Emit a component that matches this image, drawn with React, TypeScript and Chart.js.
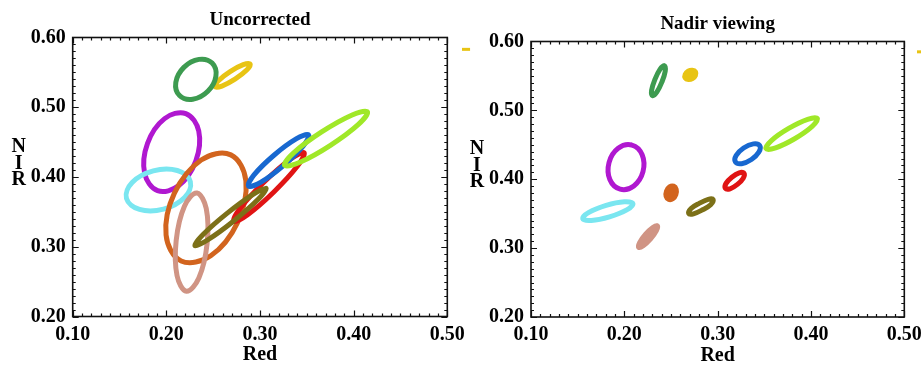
import React, { useEffect, useRef } from 'react';
import { Chart, registerables } from 'chart.js';

Chart.register(...registerables);

type Pt = [number, number];

// Axis ticks
const xTickValues = [0.1, 0.2, 0.3, 0.4, 0.5];
const yTickValues = [0.2, 0.3, 0.4, 0.5, 0.6];
const minorStep = 0.01;

// Panel titles / axis titles
const panelTitles = ['Uncorrected', 'Nadir viewing'];
const xAxisTitle = 'Red';
const yAxisLetters = ['N', 'I', 'R'];

// Class colours
const classNames = ['green', 'yellow', 'magenta', 'cyan', 'orange', 'pink', 'olive', 'red', 'blue', 'lime'];
const classColors = ['#3d9b50', '#e8c414', '#b018d0', '#7ae6f0', '#d2641e', '#d09484', '#7c7018', '#e01414', '#1868d0', '#a0e828'];

// ---- Uncorrected: ellipse outlines (Red, NIR) ----
const uncGreen: Pt[] = [[0.2489, 0.5633], [0.2529, 0.5443], [0.2443, 0.5228], [0.2282, 0.5114], [0.2141, 0.5167], [0.2101, 0.5357], [0.2187, 0.5572], [0.2348, 0.5686]];
const uncYellow: Pt[] = [[0.2894, 0.5619], [0.2858, 0.5533], [0.2733, 0.5403], [0.2593, 0.5304], [0.2520, 0.5295], [0.2556, 0.5381], [0.2681, 0.5511], [0.2821, 0.5610]];
const uncMagenta: Pt[] = [[0.2208, 0.4910], [0.2346, 0.4659], [0.2315, 0.4231], [0.2133, 0.3877], [0.1906, 0.3804], [0.1768, 0.4055], [0.1799, 0.4483], [0.1981, 0.4837]];
const uncCyan: Pt[] = [[0.2256, 0.3935], [0.2195, 0.3706], [0.1970, 0.3540], [0.1713, 0.3535], [0.1574, 0.3693], [0.1635, 0.3922], [0.1860, 0.4088], [0.2117, 0.4093]];
const uncOrange: Pt[] = [[0.2688, 0.4317], [0.2849, 0.3945], [0.2760, 0.3346], [0.2474, 0.2871], [0.2158, 0.2797], [0.1997, 0.3169], [0.2086, 0.3768], [0.2372, 0.4243]];
const uncPink: Pt[] = [[0.2326, 0.3771], [0.2426, 0.3548], [0.2435, 0.3044], [0.2347, 0.2553], [0.2214, 0.2363], [0.2114, 0.2586], [0.2105, 0.3090], [0.2193, 0.3581]];
const uncOlive: Pt[] = [[0.3065, 0.3836], [0.2978, 0.3676], [0.2719, 0.3370], [0.2440, 0.3097], [0.2305, 0.3016], [0.2392, 0.3176], [0.2651, 0.3482], [0.2930, 0.3755]];
const uncRed: Pt[] = [[0.3471, 0.4347], [0.3398, 0.4153], [0.3148, 0.3786], [0.2868, 0.3460], [0.2721, 0.3367], [0.2794, 0.3561], [0.3044, 0.3928], [0.3324, 0.4254]];
const uncBlue: Pt[] = [[0.3519, 0.4603], [0.3460, 0.4442], [0.3247, 0.4160], [0.3006, 0.3923], [0.2877, 0.3869], [0.2936, 0.4030], [0.3149, 0.4312], [0.3390, 0.4549]];
const uncLime: Pt[] = [[0.4147, 0.4934], [0.4051, 0.4754], [0.3752, 0.4454], [0.3426, 0.4211], [0.3263, 0.4166], [0.3359, 0.4346], [0.3658, 0.4646], [0.3984, 0.4889]];

// ---- Nadir viewing ----
const nadGreen: Pt[] = [[0.2429, 0.5647], [0.2438, 0.5567], [0.2402, 0.5410], [0.2348, 0.5264], [0.2302, 0.5214], [0.2292, 0.5290], [0.2328, 0.5450], [0.2382, 0.5596]];
const nadYellow: Pt[] = [[0.2762, 0.5560], [0.2762, 0.5508], [0.2730, 0.5462], [0.2686, 0.5447], [0.2652, 0.5470], [0.2652, 0.5522], [0.2684, 0.5568], [0.2728, 0.5583]];
const nadMagenta: Pt[] = [[0.2081, 0.4496], [0.2191, 0.4356], [0.2200, 0.4110], [0.2102, 0.3903], [0.1955, 0.3856], [0.1845, 0.3996], [0.1836, 0.4242], [0.1934, 0.4449]];
const nadCyan: Pt[] = [[0.2092, 0.3646], [0.2026, 0.3555], [0.1841, 0.3453], [0.1646, 0.3401], [0.1554, 0.3428], [0.1620, 0.3519], [0.1805, 0.3621], [0.2000, 0.3673]];
const nadOrange: Pt[] = [[0.2528, 0.3899], [0.2556, 0.3853], [0.2552, 0.3778], [0.2519, 0.3717], [0.2476, 0.3707], [0.2448, 0.3753], [0.2452, 0.3828], [0.2485, 0.3889]];
const nadPink: Pt[] = [[0.2354, 0.3322], [0.2344, 0.3253], [0.2282, 0.3134], [0.2203, 0.3034], [0.2154, 0.3012], [0.2164, 0.3081], [0.2226, 0.3200], [0.2305, 0.3300]];
const nadOlive: Pt[] = [[0.2951, 0.3705], [0.2925, 0.3630], [0.2838, 0.3556], [0.2741, 0.3498], [0.2690, 0.3502], [0.2715, 0.3576], [0.2802, 0.3650], [0.2899, 0.3708]];
const nadRed: Pt[] = [[0.3282, 0.4087], [0.3274, 0.4016], [0.3212, 0.3926], [0.3133, 0.3862], [0.3082, 0.3869], [0.3090, 0.3940], [0.3152, 0.4030], [0.3231, 0.4094]];
const nadBlue: Pt[] = [[0.3451, 0.4489], [0.3442, 0.4395], [0.3362, 0.4286], [0.3257, 0.4226], [0.3190, 0.4252], [0.3198, 0.4345], [0.3278, 0.4454], [0.3383, 0.4514]];
const nadLime: Pt[] = [[0.4068, 0.4881], [0.4010, 0.4764], [0.3825, 0.4588], [0.3621, 0.4456], [0.3518, 0.4445], [0.3576, 0.4562], [0.3761, 0.4738], [0.3965, 0.4870]];

// classes drawn as solid blobs in the nadir panel
const nadFilled = ['yellow', 'orange', 'pink'];

// small yellow fragments visible just outside each frame (top right)
const uncFragment: Pt[] = [[0.5157, 0.583], [0.5243, 0.583]];
const nadFragment: Pt[] = [[0.5136, 0.585], [0.5222, 0.585]];

const uncEllipses = [uncGreen, uncYellow, uncMagenta, uncCyan, uncOrange, uncPink, uncOlive, uncRed, uncBlue, uncLime];
const nadEllipses = [nadGreen, nadYellow, nadMagenta, nadCyan, nadOrange, nadPink, nadOlive, nadRed, nadBlue, nadLime];
// drawing order: smaller = on top
const drawOrder = [1, 2, 10, 9, 8, 7, 5, 6, 4, 3];

const FONT = '"Liberation Serif", "Times New Roman", serif';

function loopData(pts: Pt[]) {
  const n = pts.length;
  const seq = [pts[n - 1], ...pts, pts[0], pts[1]];
  return seq.map(([x, y]) => ({ x, y }));
}

function buildDatasets(ellipses: Pt[][], fragment: Pt[], filled: string[]) {
  const ds: any[] = ellipses.map((pts, i) => {
    const last = pts.length + 2;
    const isFilled = filled.includes(classNames[i]);
    return {
      label: classNames[i],
      data: loopData(pts),
      borderColor: classColors[i],
      backgroundColor: classColors[i],
      borderWidth: 5,
      borderCapStyle: 'round',
      borderJoinStyle: 'round',
      pointRadius: 0,
      pointHoverRadius: 0,
      tension: 0.38,
      fill: isFilled ? 'shape' : false,
      order: drawOrder[i],
      segment: {
        borderColor: (ctx: any) =>
          ctx.p0DataIndex === 0 || ctx.p1DataIndex === last ? 'rgba(0,0,0,0)' : undefined,
      },
    };
  });
  ds.push({
    label: 'fragment',
    data: fragment.map(([x, y]) => ({ x, y })),
    borderColor: classColors[1],
    borderWidth: 3,
    pointRadius: 0,
    tension: 0,
    fill: false,
    clip: false,
    order: 0,
  });
  return ds;
}

function decorPlugin(title: string) {
  return {
    id: 'frameDecor',
    afterDraw(chart: any) {
      const { ctx, chartArea: a, scales } = chart;
      const xs = scales.x;
      const ys = scales.y;
      ctx.save();
      ctx.strokeStyle = '#111';
      ctx.lineWidth = 1.6;
      ctx.strokeRect(a.left, a.top, a.right - a.left, a.bottom - a.top);
      ctx.lineWidth = 1.2;
      ctx.beginPath();
      const nx = Math.round((xs.max - xs.min) / minorStep);
      for (let i = 0; i <= nx; i++) {
        const v = xs.min + i * minorStep;
        const major = xTickValues.some((t) => Math.abs(t - v) < 1e-6);
        const len = major ? 6 : 3;
        const px = Math.round(xs.getPixelForValue(v)) + 0.5;
        ctx.moveTo(px, a.bottom);
        ctx.lineTo(px, a.bottom - len);
        ctx.moveTo(px, a.top);
        ctx.lineTo(px, a.top + len);
      }
      const ny = Math.round((ys.max - ys.min) / minorStep);
      for (let i = 0; i <= ny; i++) {
        const v = ys.min + i * minorStep;
        const major = yTickValues.some((t) => Math.abs(t - v) < 1e-6);
        const len = major ? 6 : 3;
        const py = Math.round(ys.getPixelForValue(v)) + 0.5;
        ctx.moveTo(a.left, py);
        ctx.lineTo(a.left + len, py);
        ctx.moveTo(a.right, py);
        ctx.lineTo(a.right - len, py);
      }
      ctx.stroke();

      ctx.fillStyle = '#000';
      ctx.textAlign = 'center';
      ctx.textBaseline = 'alphabetic';
      ctx.font = `bold 19px ${FONT}`;
      ctx.fillText(title, (a.left + a.right) / 2, a.top - 12.5);
      ctx.font = `bold 20px ${FONT}`;
      ctx.fillText(xAxisTitle, (a.left + a.right) / 2, a.bottom + 43.5);
      const mid = (a.top + a.bottom) / 2;
      const offs = [-25, -8.5, 7.5];
      yAxisLetters.forEach((ch, i) => {
        ctx.fillText(ch, a.left - 54, mid + offs[i]);
      });
      ctx.restore();
    },
  };
}

function makeChart(
  canvas: HTMLCanvasElement,
  ellipses: Pt[][],
  fragment: Pt[],
  filled: string[],
  title: string,
  yAxisW: number,
  xAxisH: number,
  top: number,
  right: number
) {
  const tickFont = { family: FONT, size: 20, weight: 'bold' as const };
  return new Chart(canvas, {
    type: 'line',
    data: { datasets: buildDatasets(ellipses, fragment, filled) },
    options: {
      responsive: false,
      devicePixelRatio: 1,
      animation: false,
      events: [],
      layout: { padding: { left: 0, right, top, bottom: 0 } },
      plugins: {
        legend: { display: false },
        title: { display: false },
        tooltip: { enabled: false },
        filler: { propagate: false },
      },
      scales: {
        x: {
          type: 'linear',
          min: xTickValues[0],
          max: xTickValues[xTickValues.length - 1],
          grid: { display: false, drawTicks: false },
          border: { display: false },
          ticks: {
            font: tickFont,
            color: '#000',
            padding: 6,
            maxRotation: 0,
            autoSkip: false,
            callback: (v: any) => Number(v).toFixed(2),
          },
          afterBuildTicks: (s: any) => {
            s.ticks = xTickValues.map((value) => ({ value }));
          },
          afterFit: (s: any) => {
            s.height = xAxisH;
            s.paddingLeft = 0;
            s.paddingRight = 0;
          },
        },
        y: {
          type: 'linear',
          min: yTickValues[0],
          max: yTickValues[yTickValues.length - 1],
          grid: { display: false, drawTicks: false },
          border: { display: false },
          ticks: {
            font: tickFont,
            color: '#000',
            padding: 7,
            autoSkip: false,
            callback: (v: any) => Number(v).toFixed(2),
          },
          afterBuildTicks: (s: any) => {
            s.ticks = yTickValues.map((value) => ({ value }));
          },
          afterFit: (s: any) => {
            s.width = yAxisW;
            s.paddingTop = 0;
            s.paddingBottom = 0;
          },
        },
      },
    } as any,
    plugins: [decorPlugin(title)],
  });
}

export default function App() {
  const leftRef = useRef<HTMLCanvasElement>(null);
  const rightRef = useRef<HTMLCanvasElement>(null);

  useEffect(() => {
    const left = makeChart(leftRef.current!, uncEllipses, uncFragment, [], panelTitles[0], 72.7, 48.5, 37.5, 32.7);
    const right = makeChart(rightRef.current!, nadEllipses, nadFragment, nadFilled, panelTitles[1], 71, 48, 41.5, 35.7);
    return () => {
      left.destroy();
      right.destroy();
    };
  }, []);

  return (
    <div
      style={{
        position: 'fixed',
        left: 0,
        top: 0,
        width: 921,
        height: 365,
        overflow: 'hidden',
        background: '#fff',
      }}
    >
      <canvas ref={rightRef} width={480} height={365} style={{ position: 'absolute', left: 460, top: 0 }} />
      <canvas ref={leftRef} width={480} height={365} style={{ position: 'absolute', left: 0, top: 0 }} />
    </div>
  );
}
